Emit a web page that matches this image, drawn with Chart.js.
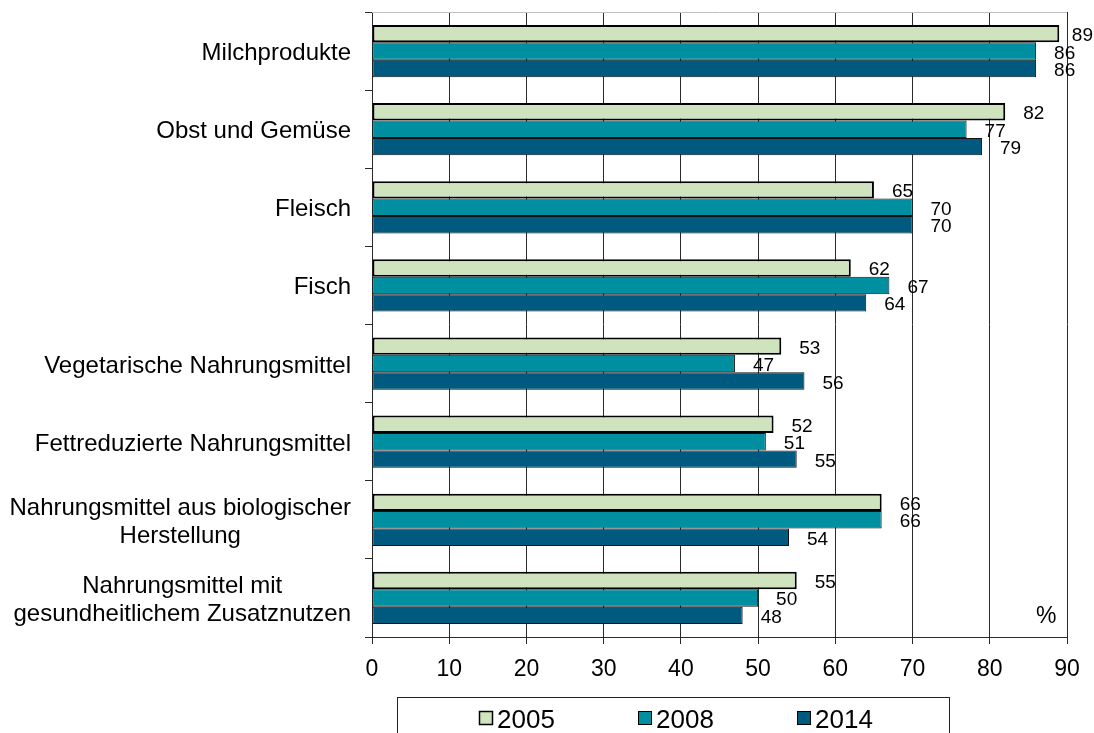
<!DOCTYPE html>
<html lang="de">
<head>
<meta charset="utf-8">
<title>Gekaufte Nahrungsmittel 2005, 2008, 2014</title>
<script src="https://cdn.jsdelivr.net/npm/chart.js@4/dist/chart.umd.min.js"></script>
<style>
  html, body { margin: 0; padding: 0; background: #fff; overflow: hidden; }
  canvas { display: block; }
</style>
</head>
<body>
<canvas id="chart" width="1094" height="733"></canvas>
<script>
// Categories (multi-line labels as arrays)
const categories = [
  ['Milchprodukte'],
  ['Obst und Gemüse'],
  ['Fleisch'],
  ['Fisch'],
  ['Vegetarische Nahrungsmittel'],
  ['Fettreduzierte Nahrungsmittel'],
  ['Nahrungsmittel aus biologischer', 'Herstellung'],
  ['Nahrungsmittel mit', 'gesundheitlichem Zusatznutzen']
];
const years = ['2005', '2008', '2014'];
const values2005 = [89, 82, 65, 62, 53, 52, 66, 55];
const values2008 = [86, 77, 70, 67, 47, 51, 66, 50];
const values2014 = [86, 79, 70, 64, 56, 55, 54, 48];
const axisMin = 0;
const axisMax = 90;
const axisStep = 10;
const unitLabel = '%';

const FONT = "'Liberation Sans', Arial, Helvetica, sans-serif";

// Category labels: block right-aligned to the axis, lines centred on each other
const categoryLabels = {
  id: 'categoryLabels',
  afterDraw(chart, args, opts) {
    const { ctx } = chart;
    const scale = chart.scales.y;
    ctx.save();
    ctx.font = opts.font;
    ctx.fillStyle = opts.color;
    ctx.textAlign = 'center';
    ctx.textBaseline = 'alphabetic';
    chart.data.labels.forEach((label, i) => {
      const lines = Array.isArray(label) ? label : [label];
      const w = Math.max(...lines.map(l => ctx.measureText(l).width));
      const cx = opts.right - w / 2;
      const cy = scale.getPixelForValue(i);
      lines.forEach((line, j) => {
        const y = cy + opts.baselineShift + (j - (lines.length - 1) / 2) * opts.lineHeight;
        ctx.fillText(line, cx, y);
      });
    });
    ctx.restore();
  }
};

// Value labels to the right of each bar (kept inside the canvas)
const valueLabels = {
  id: 'valueLabels',
  afterDatasetsDraw(chart, args, opts) {
    const { ctx } = chart;
    ctx.save();
    ctx.font = opts.font;
    ctx.fillStyle = opts.color;
    ctx.textAlign = 'left';
    ctx.textBaseline = 'alphabetic';
    chart.data.datasets.forEach((ds, di) => {
      const meta = chart.getDatasetMeta(di);
      meta.data.forEach((el, i) => {
        const text = String(ds.data[i]);
        const w = ctx.measureText(text).width;
        const x = Math.min(el.x + opts.offset, chart.width - w - 1);
        ctx.fillText(text, x, el.y + opts.baselineShift);
      });
    });
    ctx.restore();
  }
};

// Top frame line and unit label inside the plot
const plotFrame = {
  id: 'plotFrame',
  beforeDatasetsDraw(chart, args, opts) {
    const { ctx, chartArea: a } = chart;
    ctx.save();
    ctx.strokeStyle = opts.topColor;
    ctx.lineWidth = 1;
    ctx.beginPath();
    ctx.moveTo(a.left, Math.round(a.top) + 0.5);
    ctx.lineTo(a.right, Math.round(a.top) + 0.5);
    ctx.stroke();
    ctx.restore();
  },
  afterDraw(chart, args, opts) {
    const { ctx, chartArea: a } = chart;
    ctx.save();
    ctx.font = opts.unitFont;
    ctx.fillStyle = '#000';
    ctx.textAlign = 'left';
    ctx.textBaseline = 'alphabetic';
    ctx.fillText(unitLabel, a.right + opts.unitDx, a.bottom + opts.unitDy);
    ctx.restore();
  }
};

// Boxed legend below the axis
const boxedLegend = {
  id: 'boxedLegend',
  afterDraw(chart, args, opts) {
    const { ctx } = chart;
    ctx.save();
    ctx.strokeStyle = opts.borderColor;
    ctx.lineWidth = 1;
    ctx.strokeRect(opts.left + 0.5, opts.top + 0.5, opts.width, opts.height);
    ctx.font = opts.font;
    ctx.textAlign = 'left';
    ctx.textBaseline = 'alphabetic';
    chart.data.datasets.forEach((ds, i) => {
      const x = opts.itemX[i];
      ctx.fillStyle = ds.backgroundColor;
      ctx.fillRect(x, opts.boxTop, opts.boxSize, opts.boxSize);
      ctx.strokeStyle = '#000';
      ctx.lineWidth = i === 0 ? 1.5 : 1;
      ctx.strokeRect(x + 0.5, opts.boxTop + 0.5, opts.boxSize - 1, opts.boxSize - 1);
      ctx.fillStyle = '#000';
      ctx.fillText(ds.label, x + opts.textGap, opts.baseline);
    });
    ctx.restore();
  }
};

const ctx = document.getElementById('chart').getContext('2d');
new Chart(ctx, {
  type: 'bar',
  data: {
    labels: categories,
    datasets: [
      { label: years[0], data: values2005, backgroundColor: '#D0E3BF', borderColor: '#000000', borderWidth: 2 },
      { label: years[1], data: values2008, backgroundColor: '#008FA0', borderColor: '#111111', borderWidth: 1 },
      { label: years[2], data: values2014, backgroundColor: '#005A80', borderColor: '#111111', borderWidth: 1 }
    ]
  },
  options: {
    indexAxis: 'y',
    responsive: false,
    animation: false,
    events: [],
    layout: { padding: { left: 0, top: 12, right: 27, bottom: 46 } },
    datasets: {
      bar: { categoryPercentage: 0.67, barPercentage: 1.0, borderSkipped: false }
    },
    scales: {
      x: {
        type: 'linear',
        position: 'bottom',
        min: axisMin,
        max: axisMax,
        afterFit(scale) { scale.height = 50; },
        ticks: {
          stepSize: axisStep,
          font: { family: FONT, size: 23 },
          color: '#000',
          padding: 12,
          maxRotation: 0,
          autoSkip: false
        },
        grid: { color: '#2a2a2a', lineWidth: 1, drawTicks: true, tickLength: 7 },
        border: { color: '#2a2a2a', width: 1 }
      },
      y: {
        type: 'category',
        position: 'left',
        afterFit(scale) { scale.width = 372; },
        ticks: { display: false },
        grid: { drawOnChartArea: false, drawTicks: true, tickLength: 7, color: '#2a2a2a', offset: true },
        border: { color: '#2a2a2a', width: 1 }
      }
    },
    plugins: {
      legend: { display: false },
      tooltip: { enabled: false },
      categoryLabels: { font: "24px " + FONT, color: '#000', right: 351, lineHeight: 27.6, baselineShift: 9 },
      valueLabels: { font: "19px " + FONT, color: '#000', offset: 18, baselineShift: 7.5 },
      plotFrame: { topColor: '#c0c0c0', unitFont: "23px " + FONT, unitDx: -31, unitDy: -14 },
      boxedLegend: {
        left: 397, top: 697, width: 552, height: 60,
        borderColor: '#222',
        font: "26px " + FONT,
        itemX: [479, 638, 797],
        boxTop: 711, boxSize: 14, textGap: 18, baseline: 728
      }
    }
  },
  plugins: [categoryLabels, valueLabels, plotFrame, boxedLegend]
});
</script>
</body>
</html>
